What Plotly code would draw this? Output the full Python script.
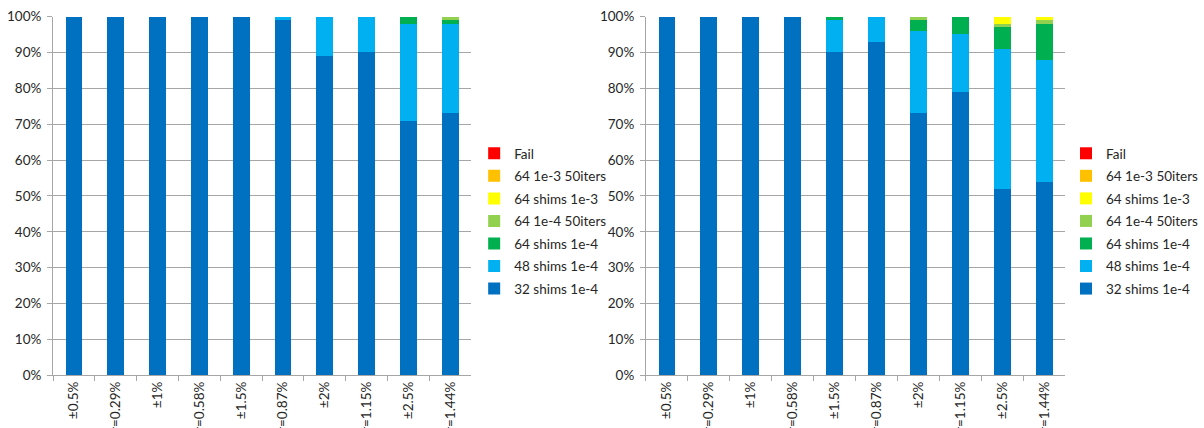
import plotly.graph_objects as go

categories = ["±0.5%", "σ=0.29%", "±1%", "σ=0.58%", "±1.5%", "σ=0.87%",
              "±2%", "σ=1.15%", "±2.5%", "σ=1.44%"]

series_names = ["32 shims 1e-4", "48 shims 1e-4", "64 shims 1e-4",
                "64 1e-4 50iters", "64 shims 1e-3", "64 1e-3 50iters", "Fail"]
series_colors = ["#0070C0", "#00B0F0", "#00B050", "#92D050", "#FFFF00", "#FFC000", "#FF0000"]

# Left chart (percent of runs)
left_32 = [100, 100, 100, 100, 100, 99, 89, 90, 71, 73]
left_48 = [0, 0, 0, 0, 0, 1, 11, 10, 27, 25]
left_64 = [0, 0, 0, 0, 0, 0, 0, 0, 2, 1]
left_64_50 = [0, 0, 0, 0, 0, 0, 0, 0, 0, 1]
left_64_1e3 = [0, 0, 0, 0, 0, 0, 0, 0, 0, 0]
left_64_1e3_50 = [0, 0, 0, 0, 0, 0, 0, 0, 0, 0]
left_fail = [0, 0, 0, 0, 0, 0, 0, 0, 0, 0]

# Right chart (percent of runs)
right_32 = [100, 100, 100, 100, 90, 93, 73, 79, 52, 54]
right_48 = [0, 0, 0, 0, 9, 7, 23, 16, 39, 34]
right_64 = [0, 0, 0, 0, 1, 0, 3, 5, 6, 10]
right_64_50 = [0, 0, 0, 0, 0, 0, 1, 0, 1, 1]
right_64_1e3 = [0, 0, 0, 0, 0, 0, 0, 0, 2, 1]
right_64_1e3_50 = [0, 0, 0, 0, 0, 0, 0, 0, 0, 0]
right_fail = [0, 0, 0, 0, 0, 0, 0, 0, 0, 0]

left_series = [left_32, left_48, left_64, left_64_50, left_64_1e3, left_64_1e3_50, left_fail]
right_series = [right_32, right_48, right_64, right_64_50, right_64_1e3, right_64_1e3_50, right_fail]

FONT = "Lato, 'Liberation Sans', sans-serif"
GRID = "#A6A6A6"
TEXT = "#262626"
FS = 13.5

fig = go.Figure()
n = len(series_names)
for i, (name, color, vals) in enumerate(zip(series_names, series_colors, left_series)):
    fig.add_trace(go.Bar(x=categories, y=vals, name=name, marker=dict(color=color, line=dict(width=0)),
                         xaxis="x", yaxis="y", legend="legend", legendgroup="L" + name,
                         legendrank=n - i))
for i, (name, color, vals) in enumerate(zip(series_names, series_colors, right_series)):
    fig.add_trace(go.Bar(x=categories, y=vals, name=name, marker=dict(color=color, line=dict(width=0)),
                         xaxis="x2", yaxis="y2", legend="legend2", legendgroup="R" + name,
                         legendrank=n - i))

W, H = 1204, 428
y0 = (H - 375.3) / H
y1 = (H - 16.5) / H

xcommon = dict(type="category", showline=True, linecolor=GRID, linewidth=1, ticks="outside",
               ticklen=5, tickcolor=GRID, tickson="boundaries", tickangle=-90, showgrid=False,
               tickfont=dict(family=FONT, size=FS, color=TEXT), automargin=False)
ycommon = dict(range=[0, 100], dtick=10, ticksuffix="%", showgrid=True, gridcolor=GRID, gridwidth=1,
               showline=True, linecolor=GRID, linewidth=1, ticks="outside", ticklen=5, tickcolor=GRID,
               zeroline=False, tickfont=dict(family=FONT, size=FS, color=TEXT), automargin=False,
               ticklabelstandoff=3)

legcommon = dict(traceorder="grouped", tracegroupgap=2, font=dict(family=FONT, size=FS, color=TEXT),
                 bgcolor="rgba(0,0,0,0)", yanchor="middle", y=(H - 221) / H, xanchor="left")

fig.update_layout(
    width=W, height=H,
    margin=dict(l=0, r=0, t=0, b=0),
    paper_bgcolor="white", plot_bgcolor="white",
    barmode="stack", bargap=0.6,
    showlegend=True,
    font=dict(family=FONT, size=FS, color=TEXT),
    xaxis=dict(domain=[54 / W, 480 / W], anchor="y", **xcommon),
    yaxis=dict(domain=[y0, y1], anchor="x", **ycommon),
    xaxis2=dict(domain=[658 / W, 1085 / W], anchor="y2", **xcommon),
    yaxis2=dict(domain=[y0, y1], anchor="x2", **ycommon),
    legend=dict(x=483 / W, **legcommon),
    legend2=dict(x=1086 / W, **legcommon),
)

fig.write_html("out.html")
